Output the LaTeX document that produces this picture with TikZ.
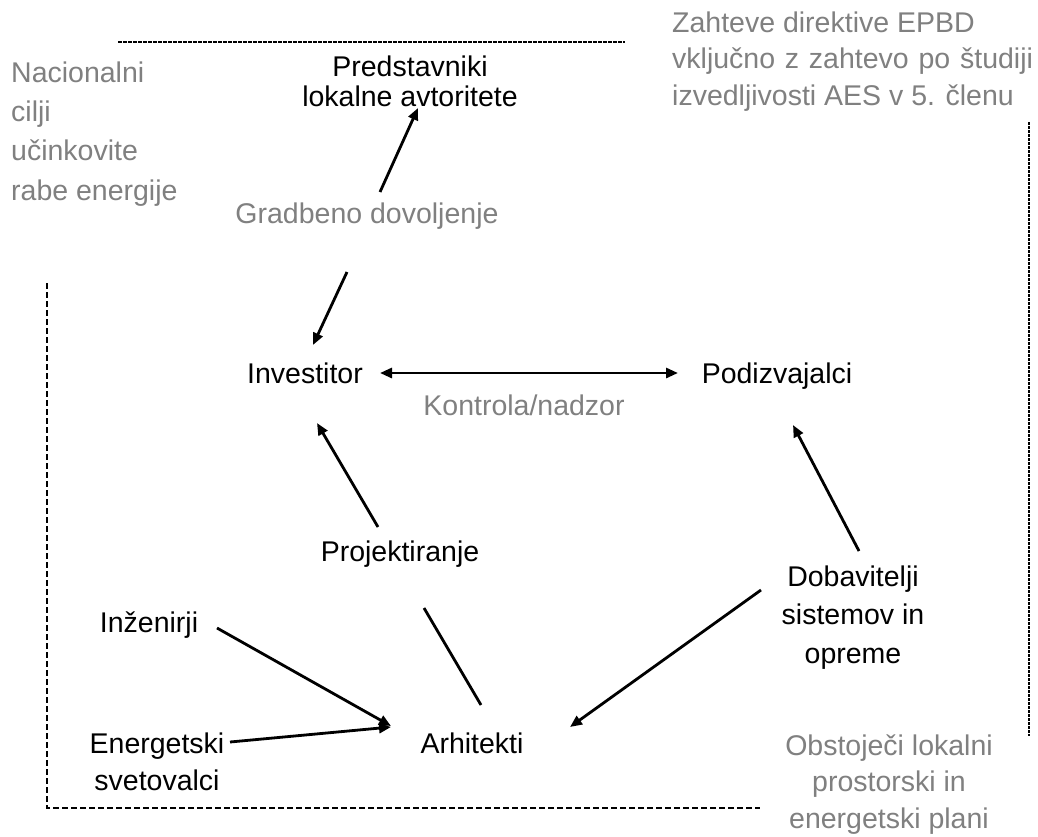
\documentclass[tikz,border=0pt]{standalone}
\usepackage{fontspec}
\setmainfont{Liberation Sans}
\usetikzlibrary{arrows.meta}
\definecolor{notegray}{HTML}{808080}
\begin{document}
\begin{tikzpicture}[x=1pt,y=-1pt,
  lbl/.style={inner sep=0pt,font=\fontsize{28.5}{38}\selectfont,align=center,anchor=base},
  note/.style={lbl,text=notegray},
  hd/.tip={Triangle[length=12pt,width=10pt]},
  arr/.style={line width=2.8pt,-hd},
  link/.style={line width=2.8pt},
  frame/.style={line width=2pt}]
\useasboundingbox[fill=white] (0,0) rectangle (1038,836);

% framing dashed lines
\draw[frame,dash pattern=on 3.5pt off 1.5pt] (118,42) -- (625,42);
\draw[frame,dash pattern=on 6pt off 3pt] (47,283) -- (47,808) -- (760,808);
\draw[frame,line width=2.3pt,dash pattern=on 3pt off 1pt] (1029,122) -- (1029,736);

% side notes (anchored at the baseline of their last line)
\node[note,anchor=base west,align=left,font=\fontsize{28.5}{39.3}\selectfont] (natl) at (11,200)
  {Nacionalni\\cilji\\učinkovite\\rabe energije};
\node[note,anchor=base west,align=left,font=\fontsize{28.5}{36.5}\selectfont] (epbd) at (672,105)
  {Zahteve direktive EPBD\\{\spaceskip=9.8pt vključno z zahtevo po študiji}\\izvedljivosti AES v 5. členu};
\node[note,font=\fontsize{28.5}{36.5}\selectfont] (obst) at (889,828)
  {Obstoječi lokalni\\prostorski in\\energetski plani};

% actors
\node[lbl,font=\fontsize{28.5}{30}\selectfont] (pred) at (410,106) {Predstavniki\\lokalne avtoritete};
\node[note] (grad) at (367,223) {Gradbeno dovoljenje};
\node[lbl] (inv) at (305,383) {Investitor};
\node[lbl] (podiz) at (777,383) {Podizvajalci};
\node[note] (kontr) at (524,415) {Kontrola/nadzor};
\node[lbl] (proj) at (400,561) {Projektiranje};
\node[lbl,font=\fontsize{28.5}{38.5}\selectfont] (dob) at (853,663) {Dobavitelji\\sistemov in\\opreme};
\node[lbl] (inz) at (149,632) {Inženirji};
\node[lbl,font=\fontsize{28.5}{37}\selectfont] (energ) at (157,790) {Energetski\\svetovalci};
\node[lbl] (arh) at (472,753) {Arhitekti};

% connectors
\draw[arr] ([shift={(13,-31)}]grad.base) -- ([shift={(8,2)}]pred.base);
\draw[arr] ([shift={(-20,49)}]grad.base) -- ([shift={(8,-38)}]inv.base);
\draw[line width=2.8pt,hd-hd]
  ([shift={(75,-10)}]inv.base) -- ([shift={(-99,-10)}]podiz.base);
\draw[arr] ([shift={(-22,-34)}]proj.base) -- ([shift={(12,40)}]inv.base);
\draw[link] ([shift={(24,47)}]proj.base) -- ([shift={(9,-48)}]arh.base);
\draw[arr] ([shift={(6,-112)}]dob.base) -- ([shift={(16,42)}]podiz.base);
\draw[arr] ([shift={(-92,-73)}]dob.base) -- ([shift={(98,-26)}]arh.base);
\draw[arr] ([shift={(68,-4)}]inz.base) -- ([shift={(-81,-27)}]arh.base);
\draw[arr] ([shift={(73,-48)}]energ.base) -- ([shift={(-81,-26)}]arh.base);
\end{tikzpicture}
\end{document}
